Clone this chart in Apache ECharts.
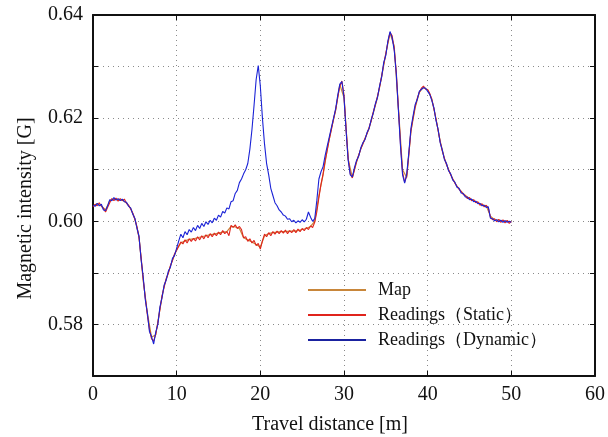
<!DOCTYPE html>
<html>
<head>
<meta charset="utf-8">
<script src="https://cdn.jsdelivr.net/npm/echarts@6/dist/echarts.min.js"></script>
<style>
html,body{margin:0;padding:0;background:#fff;}
#c{width:608px;height:437px;}
</style>
</head>
<body>
<div id="c"></div>
<script>
// Sample step for the readings (m) and for the map (m)
var readingStep = 0.25;
var mapStep = 0.5;

// Map (magnetic map values, every 0.5 m from 0 to 50 m)
var mapValues = [
0.6030,0.6034,0.6030,0.6022,0.6040,0.6043,0.6042,0.6041,0.6036,0.6025,
0.6005,0.5970,0.5885,0.5822,0.5775,0.5780,0.5830,0.5875,0.5900,0.5925,
0.5945,0.5958,0.5962,0.5965,0.5966,0.5968,0.5970,0.5972,0.5974,0.5975,
0.5977,0.5979,0.5980,0.5990,0.5989,0.5986,0.5968,0.5964,0.5960,0.5955,
0.5950,0.5972,0.5976,0.5978,0.5979,0.5980,0.5980,0.5981,0.5981,0.5982,
0.5984,0.5986,0.5990,0.6000,0.6050,0.6090,0.6140,0.6180,0.6215,0.6265,
0.6240,0.6120,0.6085,0.6115,0.6140,0.6160,0.6180,0.6210,0.6240,0.6280,
0.6325,0.6365,0.6340,0.6220,0.6100,0.6085,0.6175,0.6220,0.6250,0.6260,
0.6255,0.6237,0.6198,0.6155,0.6122,0.6100,0.6082,0.6068,0.6058,0.6050,
0.6044,0.6040,0.6036,0.6032,0.6030,0.6010,0.6003,0.6002,0.6001,0.6000,
0.5999
];

// Readings (Static), every 0.25 m from 0 to 50 m
var staticValues = [
0.6028,0.6033,0.6030,0.6036,0.6029,0.6025,0.6018,0.6027,0.6036,0.6044,0.6040,0.6045,0.6039,0.6044,0.6040,0.6043,0.6035,0.6031,0.6024,0.6016,
0.6004,0.5990,0.5968,0.5930,0.5888,0.5852,0.5818,0.5790,0.5772,0.5768,0.5781,0.5803,0.5829,0.5856,0.5872,0.5889,0.5899,0.5914,0.5924,0.5937,
0.5944,0.5952,0.5960,0.5956,0.5964,0.5958,0.5966,0.5961,0.5967,0.5962,0.5970,0.5964,0.5972,0.5966,0.5974,0.5968,0.5976,0.5970,0.5977,0.5972,
0.5979,0.5974,0.5982,0.5976,0.5980,0.5972,0.5992,0.5988,0.5993,0.5986,0.5990,0.5984,0.5968,0.5970,0.5961,0.5966,0.5958,0.5963,0.5953,0.5957,
0.5946,0.5962,0.5975,0.5970,0.5978,0.5972,0.5980,0.5975,0.5981,0.5976,0.5982,0.5977,0.5983,0.5976,0.5982,0.5978,0.5984,0.5978,0.5985,0.5980,
0.5986,0.5982,0.5988,0.5984,0.5991,0.5988,0.5998,0.6018,0.6046,0.6072,0.6092,0.6118,0.6138,0.6160,0.6178,0.6198,0.6216,0.6240,0.6262,0.6272,
0.6245,0.6180,0.6122,0.6092,0.6084,0.6100,0.6116,0.6128,0.6140,0.6150,0.6160,0.6170,0.6182,0.6195,0.6212,0.6226,0.6242,0.6260,0.6282,0.6305,
0.6325,0.6348,0.6366,0.6360,0.6335,0.6290,0.6220,0.6150,0.6095,0.6076,0.6088,0.6130,0.6175,0.6200,0.6222,0.6238,0.6250,0.6258,0.6262,0.6256,
0.6255,0.6248,0.6236,0.6218,0.6198,0.6176,0.6154,0.6136,0.6122,0.6110,0.6100,0.6090,0.6082,0.6074,0.6068,0.6062,0.6058,0.6052,0.6050,0.6044,
0.6046,0.6040,0.6042,0.6036,0.6038,0.6031,0.6034,0.6028,0.6031,0.6026,0.6008,0.6003,0.6005,0.5999,0.6004,0.5998,0.6003,0.5997,0.6002,0.5996,
0.6000
];

// Readings (Dynamic), every 0.25 m from 0 to 50 m
var dynamicValues = [
0.6031,0.6029,0.6035,0.6030,0.6033,0.6022,0.6021,0.6030,0.6042,0.6040,0.6046,0.6041,0.6044,0.6040,0.6043,0.6038,0.6037,0.6029,0.6026,0.6014,
0.6006,0.5987,0.5971,0.5926,0.5892,0.5848,0.5822,0.5786,0.5776,0.5762,0.5785,0.5800,0.5834,0.5852,0.5876,0.5886,0.5903,0.5911,0.5928,0.5934,
0.5948,0.5962,0.5975,0.5968,0.5980,0.5974,0.5984,0.5979,0.5988,0.5982,0.5992,0.5986,0.5996,0.5990,0.5999,0.5994,0.6002,0.5997,0.6006,0.6002,
0.6012,0.6008,0.6019,0.6016,0.6026,0.6024,0.6038,0.6040,0.6054,0.6060,0.6075,0.6082,0.6092,0.6100,0.6112,0.6140,0.6178,0.6225,0.6275,0.6302,
0.6262,0.6200,0.6150,0.6112,0.6090,0.6064,0.6050,0.6036,0.6030,0.6022,0.6018,0.6012,0.6010,0.6004,0.6005,0.5999,0.6002,0.5997,0.6001,0.5998,
0.6003,0.5999,0.6004,0.6018,0.6008,0.6000,0.6005,0.6040,0.6082,0.6096,0.6106,0.6128,0.6146,0.6164,0.6182,0.6200,0.6218,0.6244,0.6266,0.6271,
0.6240,0.6176,0.6118,0.6090,0.6086,0.6104,0.6118,0.6126,0.6142,0.6152,0.6158,0.6172,0.6180,0.6197,0.6210,0.6228,0.6240,0.6262,0.6280,0.6308,
0.6322,0.6350,0.6368,0.6356,0.6332,0.6286,0.6216,0.6146,0.6090,0.6074,0.6092,0.6134,0.6180,0.6204,0.6226,0.6236,0.6252,0.6256,0.6259,0.6258,
0.6252,0.6246,0.6234,0.6220,0.6195,0.6178,0.6152,0.6138,0.6120,0.6112,0.6098,0.6092,0.6080,0.6076,0.6066,0.6064,0.6055,0.6054,0.6047,0.6047,
0.6042,0.6043,0.6038,0.6039,0.6034,0.6035,0.6030,0.6031,0.6027,0.6028,0.6006,0.6005,0.6001,0.6003,0.5999,0.6002,0.5998,0.6001,0.5998,0.6000,
0.5998
];

var seriesNames = ['Map', 'Readings\uFF08Static\uFF09', 'Readings\uFF08Dynamic\uFF09'];
var xTicks = [0, 10, 20, 30, 40, 50, 60];
var yLabels = ['0.58', '0.60', '0.62', '0.64'];

function pairs(values, step) {
  return values.map(function (v, i) { return [+(i * step).toFixed(2), v]; });
}

var font = '"Liberation Serif", "Times New Roman", serif';
var chart = echarts.init(document.getElementById('c'), null, {renderer: 'canvas'});

var splitDotted = {show: true, lineStyle: {color: '#8a8a8a', type: [1, 4], width: 1}};

chart.setOption({
  backgroundColor: '#fff',
  animation: false,
  grid: {left: 93, right: 13, top: 15, bottom: 61, containLabel: false, outerBoundsMode: 'none'},
  legend: {
    orient: 'vertical',
    left: 303,
    top: 276,
    itemWidth: 58,
    itemHeight: 14,
    itemGap: 7,
    icon: 'path://M0,6 L58,6 L58,8 L0,8 Z',
    textStyle: {fontFamily: font, fontSize: 18, color: '#111', padding: [0, 0, 0, 7]},
    data: seriesNames.map(function (n) { return {name: n}; })
  },
  xAxis: [{
    type: 'value', min: 0, max: 60, interval: 10,
    name: 'Travel distance [m]', nameLocation: 'middle', nameGap: 39,
    nameTextStyle: {fontFamily: font, fontSize: 20, color: '#111', padding: [0, 28, 0, 0]},
    axisLine: {show: true, onZero: false, lineStyle: {color: '#111', width: 2}},
    axisTick: {show: true, inside: true, length: 5, lineStyle: {color: '#111'}},
    axisLabel: {fontFamily: font, fontSize: 20, color: '#111', margin: 9,
      formatter: function (v) { return xTicks.indexOf(Math.round(v)) >= 0 ? String(Math.round(v)) : ''; }},
    splitLine: splitDotted
  }, {
    type: 'value', min: 0, max: 60, interval: 10, position: 'top',
    axisLine: {show: true, onZero: false, lineStyle: {color: '#111', width: 2}},
    axisTick: {show: true, inside: true, length: 5, lineStyle: {color: '#111'}},
    axisLabel: {show: false}, splitLine: {show: false}
  }],
  yAxis: [{
    type: 'value', min: 0.57, max: 0.64, interval: 0.01,
    name: 'Magnetic intensity [G]', nameLocation: 'middle', nameGap: 57,
    nameTextStyle: {fontFamily: font, fontSize: 20, color: '#111', padding: [0, 26, 0, 0]},
    axisLine: {show: true, onZero: false, lineStyle: {color: '#111', width: 2}},
    axisTick: {show: true, inside: true, length: 5, lineStyle: {color: '#111'}},
    axisLabel: {fontFamily: font, fontSize: 20, color: '#111', margin: 10,
      formatter: function (v) {
        var s = v.toFixed(2);
        return yLabels.indexOf(s) >= 0 ? s : '';
      }},
    splitLine: splitDotted
  }, {
    type: 'value', min: 0.57, max: 0.64, interval: 0.01, position: 'right',
    axisLine: {show: true, onZero: false, lineStyle: {color: '#111', width: 2}},
    axisTick: {show: true, inside: true, length: 5, lineStyle: {color: '#111'}},
    axisLabel: {show: false}, splitLine: {show: false}
  }],
  series: [{
    name: seriesNames[0], type: 'line', data: pairs(mapValues, mapStep),
    showSymbol: false, symbol: 'none', lineStyle: {color: '#c8863a', width: 1.2}, itemStyle: {color: '#c8863a'}
  }, {
    name: seriesNames[1], type: 'line', data: pairs(staticValues, readingStep),
    showSymbol: false, symbol: 'none', lineStyle: {color: '#e0241c', width: 1.1}, itemStyle: {color: '#e0241c'}
  }, {
    name: seriesNames[2], type: 'line', data: pairs(dynamicValues, readingStep),
    showSymbol: false, symbol: 'none', lineStyle: {color: '#1a22d6', width: 1.1}, itemStyle: {color: '#1a22a0'}
  }]
});
</script>
</body>
</html>
